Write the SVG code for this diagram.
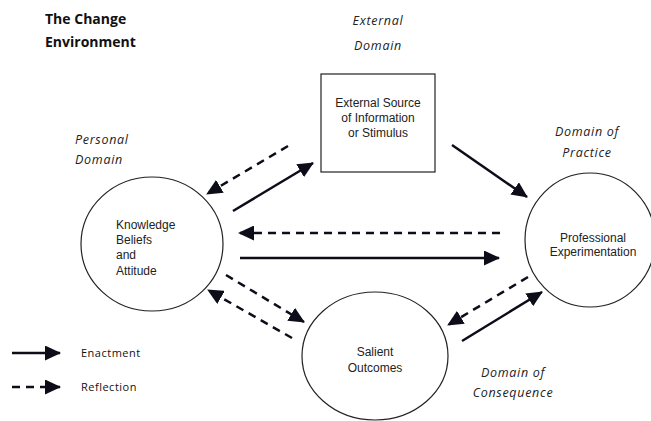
<svg xmlns="http://www.w3.org/2000/svg" width="651" height="421" viewBox="0 0 651 421">
  <style>
    .title { font-family: "Open Sans", "Liberation Sans", sans-serif; font-weight: bold; font-size: 14px; fill: #111; }
    .domain { font-family: "Open Sans", "DejaVu Sans", sans-serif; font-style: italic; font-size: 12.5px; fill: #222; letter-spacing: 0.7px; }
    .node-text { font-family: "Liberation Sans", Arial, sans-serif; font-size: 12px; fill: #222; }
    .legend-text { font-family: "Open Sans", "Liberation Sans", sans-serif; font-size: 11px; fill: #111; letter-spacing: 0.5px; }
    .shape { fill: #fff; stroke: #222; stroke-width: 1.2; }
    .solid { fill: none; stroke: #0d0d1a; stroke-width: 2.5; marker-end: url(#head); }
    .dashed { fill: none; stroke: #0d0d1a; stroke-width: 2.5; stroke-dasharray: 8 6; marker-end: url(#head); }
  </style>
  <defs>
    <marker id="head" markerUnits="userSpaceOnUse" markerWidth="17" markerHeight="15" refX="15" refY="7.5" orient="auto">
      <path d="M0,0 L16,7.5 L0,15 z" fill="#0d0d1a"/>
    </marker>
  </defs>
  <rect width="651" height="421" fill="#fff"/>

  <text class="title" x="45" y="24">The Change</text>
  <text class="title" x="45" y="47">Environment</text>

  <text class="domain" x="378" y="25" text-anchor="middle">External</text>
  <text class="domain" x="378" y="50" text-anchor="middle">Domain</text>
  <text class="domain" x="75" y="144">Personal</text>
  <text class="domain" x="75" y="164">Domain</text>
  <text class="domain" x="587" y="136" text-anchor="middle">Domain of</text>
  <text class="domain" x="587" y="157" text-anchor="middle">Practice</text>
  <text class="domain" x="513" y="377" text-anchor="middle">Domain of</text>
  <text class="domain" x="513" y="397" text-anchor="middle">Consequence</text>

  <g id="external-source">
    <rect class="shape" x="321" y="74" width="114" height="98"/>
    <text class="node-text" x="378" y="107" text-anchor="middle">External Source</text>
    <text class="node-text" x="378" y="122" text-anchor="middle">of Information</text>
    <text class="node-text" x="378" y="137" text-anchor="middle">or Stimulus</text>
  </g>

  <g id="knowledge">
    <ellipse class="shape" cx="152" cy="244" rx="71" ry="67"/>
    <text class="node-text" x="116" y="229">Knowledge</text>
    <text class="node-text" x="116" y="244">Beliefs</text>
    <text class="node-text" x="116" y="259">and</text>
    <text class="node-text" x="116" y="275">Attitude</text>
  </g>

  <g id="professional">
    <ellipse class="shape" cx="590" cy="240" rx="65" ry="67"/>
    <text class="node-text" x="593" y="242" text-anchor="middle">Professional</text>
    <text class="node-text" x="593" y="256" text-anchor="middle">Experimentation</text>
  </g>

  <g id="salient">
    <ellipse class="shape" cx="375" cy="356" rx="73" ry="64"/>
    <text class="node-text" x="375" y="356" text-anchor="middle">Salient</text>
    <text class="node-text" x="375" y="372" text-anchor="middle">Outcomes</text>
  </g>

  <g id="connectors">
    <line class="dashed" x1="288" y1="146" x2="207" y2="194"/>
    <line class="solid" x1="233" y1="211" x2="313" y2="163"/>
    <line class="solid" x1="452" y1="145" x2="527" y2="197"/>
    <line class="dashed" x1="500" y1="233" x2="239" y2="233"/>
    <line class="solid" x1="240" y1="258" x2="499" y2="258"/>
    <line class="dashed" x1="226" y1="275" x2="304" y2="322"/>
    <line class="dashed" x1="292" y1="338" x2="208" y2="290"/>
    <line class="dashed" x1="528" y1="277" x2="448" y2="325"/>
    <line class="solid" x1="462" y1="341" x2="542" y2="292"/>
  </g>

  <g id="legend">
    <line class="solid" x1="12" y1="353" x2="60" y2="353"/>
    <text class="legend-text" x="81" y="357">Enactment</text>
    <line class="dashed" x1="12" y1="387" x2="60" y2="387"/>
    <text class="legend-text" x="81" y="391">Reflection</text>
  </g>
</svg>
